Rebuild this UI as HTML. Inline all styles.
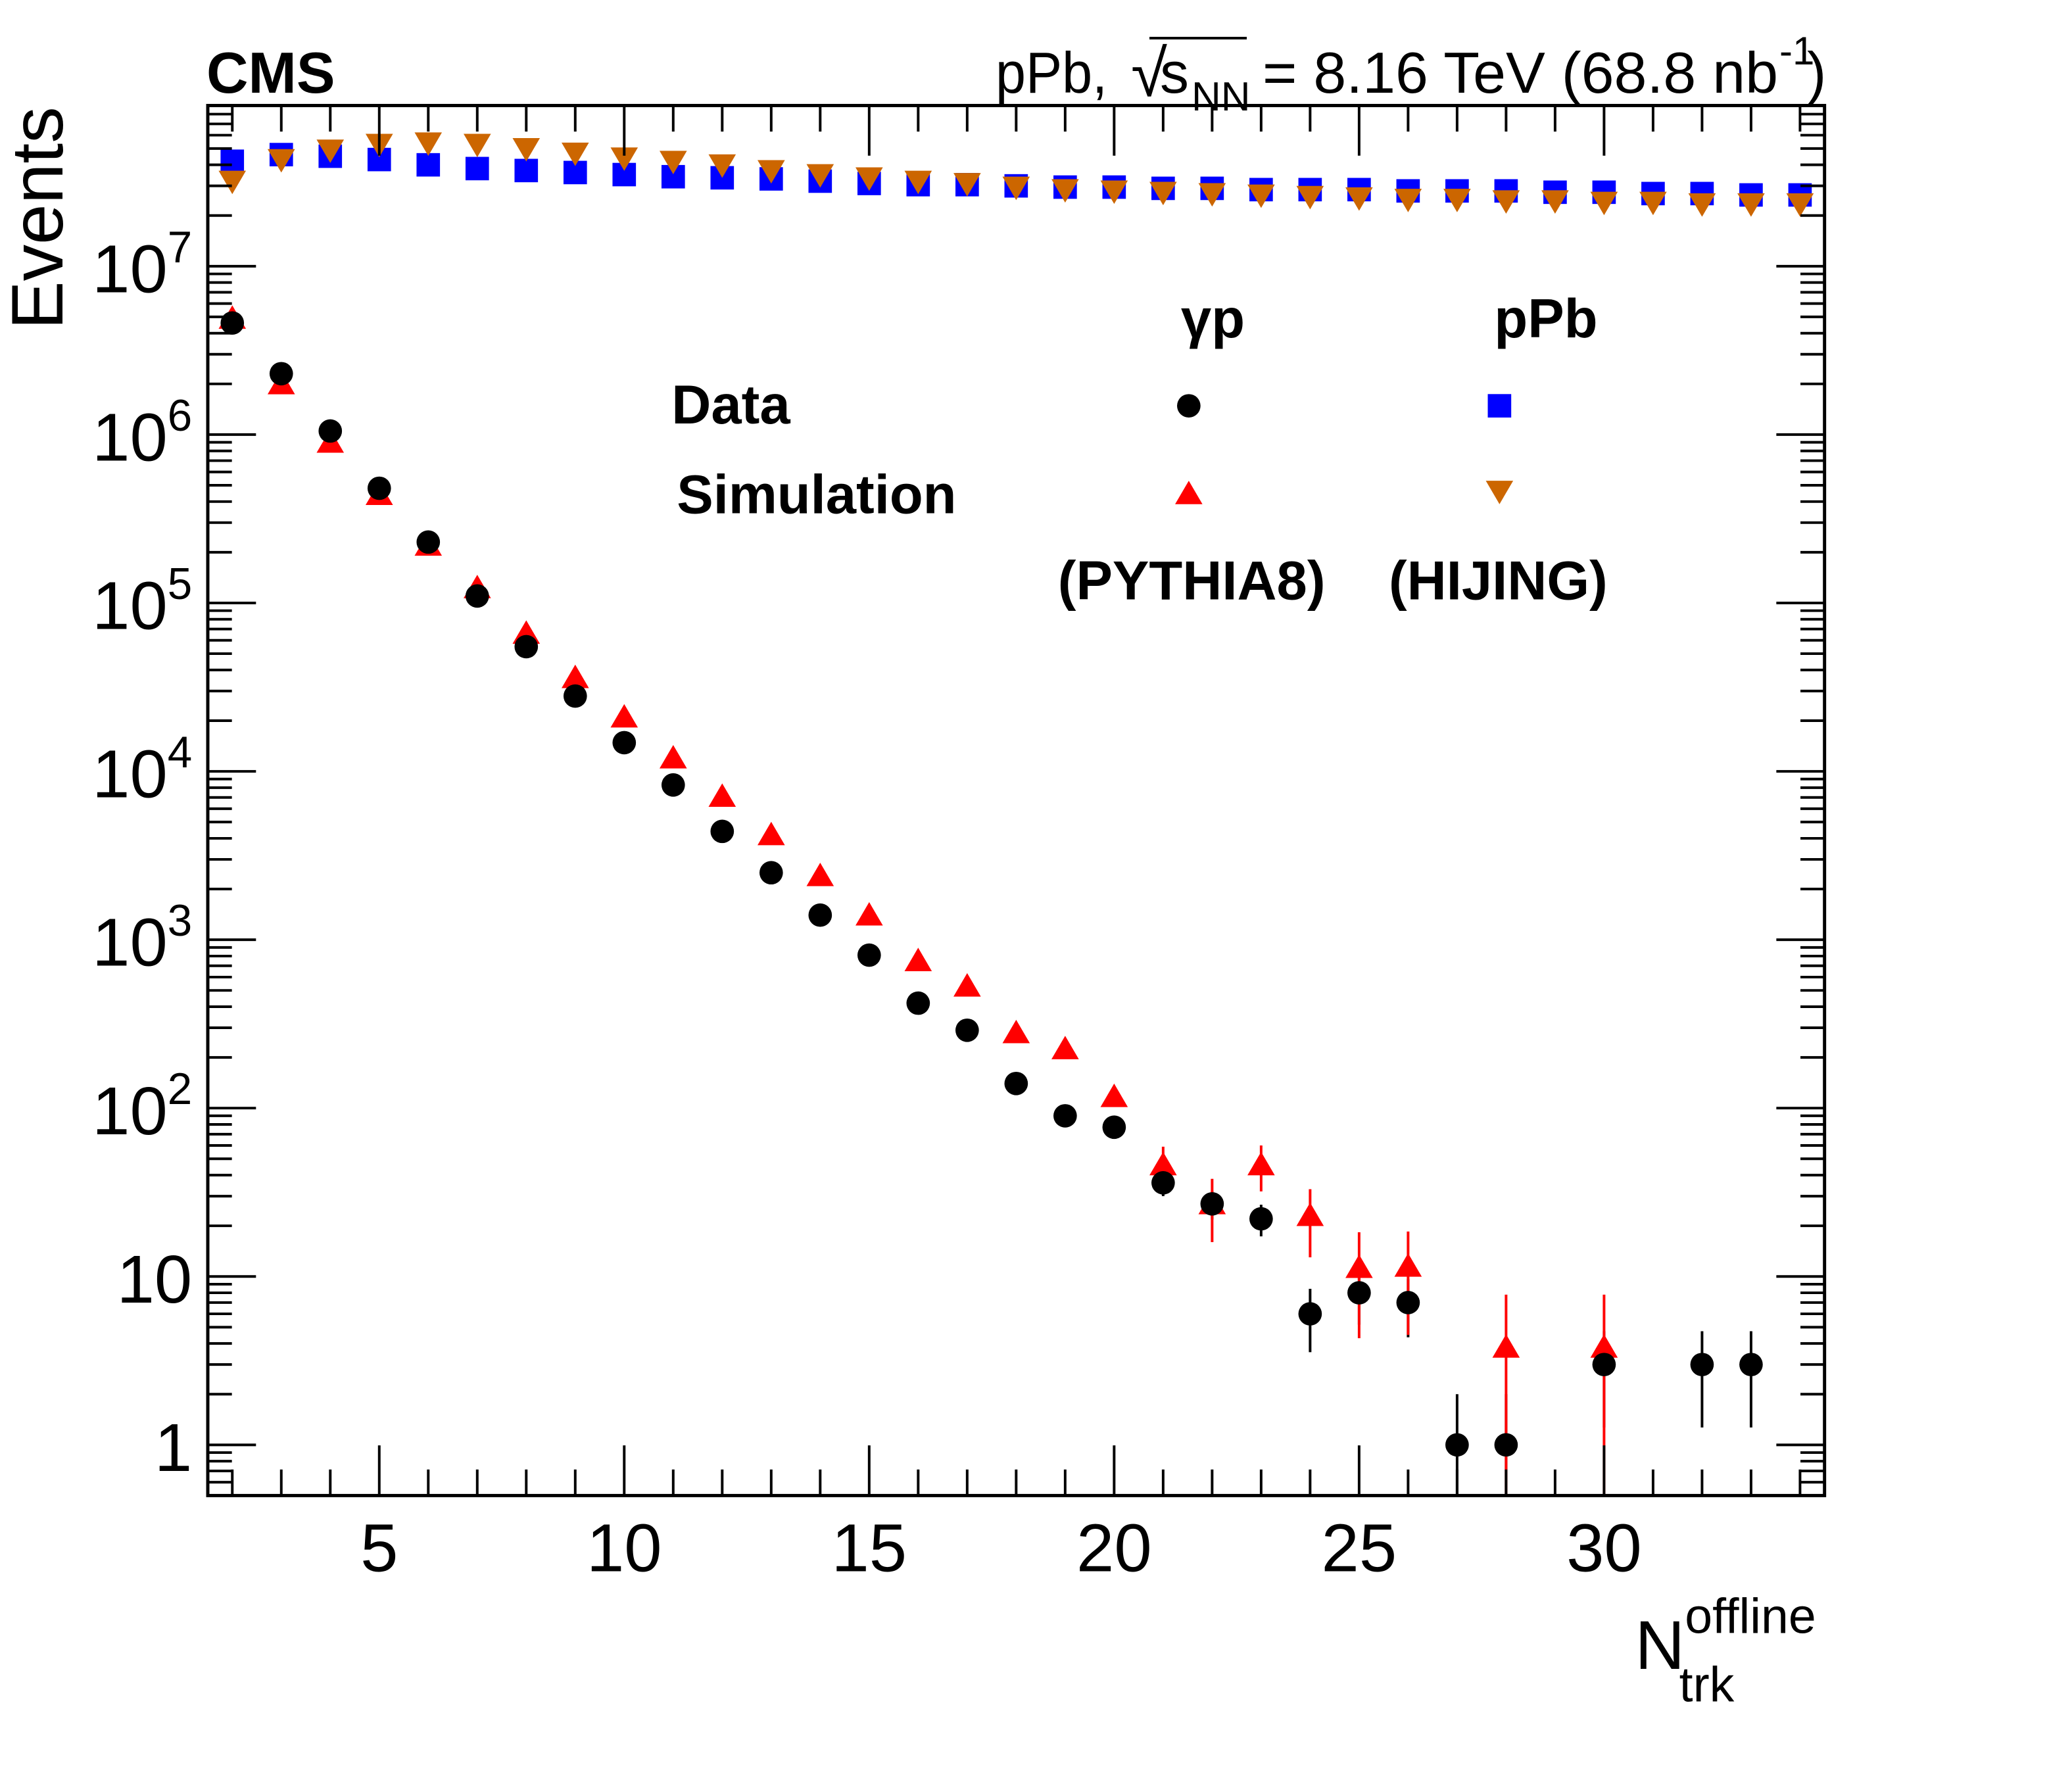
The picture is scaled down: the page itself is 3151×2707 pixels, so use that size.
<!DOCTYPE html>
<html><head><meta charset="utf-8"><style>
html,body{margin:0;padding:0;background:#fff}
svg{display:block}
text{font-family:"Liberation Sans",Arial,sans-serif}
</style></head><body>
<svg id="chart" width="3151" height="2707" viewBox="0 0 3151 2707" xmlns="http://www.w3.org/2000/svg">
<g transform="scale(0.9906)">
<g id="marks"></g>
<g id="axes"></g>
<rect x="319" y="162" width="2482" height="2134" fill="none" stroke="#000" stroke-width="5"/>
<text transform="translate(96,335) rotate(-90)" font-size="112" text-anchor="middle">Events</text>
<text x="2510" y="2562" font-size="106">N<tspan font-size="76" dy="-55">offline</tspan><tspan font-size="76" dx="-210" dy="105">trk</tspan></text>
<g font-weight="bold" font-size="84">
<text x="1862" y="518" text-anchor="middle">γp</text>
<text x="2294" y="518">pPb</text>
<text x="1031" y="650">Data</text>
<text x="1039" y="788">Simulation</text>
<text x="1624" y="920">(PYTHIA8)</text>
<text x="2132" y="920">(HIJING)</text>
<circle cx="1825" cy="623" r="18" fill="#000"/>
<rect x="2284" y="605" width="36" height="36" fill="#0000ff"/>
<polygon points="1825,738 1846,774 1804,774" fill="#ff0000"/>
<polygon points="2281,738 2323,738 2302,774" fill="#cc6600"/>
</g>
</g>
<text x="314" y="141" font-size="88" font-weight="bold">CMS</text>
<g font-size="88">
<text x="1514" y="141" textLength="170" lengthAdjust="spacingAndGlyphs">pPb,</text>
<text x="1720" y="146" font-size="100">√</text>
<line x1="1748" y1="58" x2="1896" y2="58" stroke="#000" stroke-width="4"/>
<text x="1764" y="141">s</text>
<text x="1812" y="168" font-size="62">NN</text>
<text x="1920" y="141" textLength="784" lengthAdjust="spacingAndGlyphs">= 8.16 TeV (68.8 nb</text>
<text x="2706" y="98" font-size="60">-1</text>
<text x="2748" y="141">)</text>
</g>
</svg>
<script>
const dataX=[2,3,4,5,6,7,8,9,10,11,12,13,14,15,16,17,18,19,20,21,22,23,24,25,26,27,28,30,32,33];
const dataY=[4.6e6,2.3e6,1.05e6,4.8e5,2.3e5,1.1e5,5.5e4,2.8e4,1.48e4,8.3e3,4.4e3,2.5e3,1.4e3,810,420,290,140,90,77,36,27,22,6,8,7,1,1,3,3,3];
const simX=[2,3,4,5,6,7,8,9,10,11,12,13,14,15,16,17,18,19,20,21,22,23,24,25,26,28,30];
const simY=[4.9e6,2.0e6,9.0e5,4.4e5,2.2e5,1.23e5,6.6e4,3.6e4,2.1e4,1.2e4,7.1e3,4.2e3,2.4e3,1.4e3,750,530,280,225,117,46,27,46,23,11.3,11.5,3.8,3.8];
const simErr=[0,0,0,0,0,0,0,0,0,0,0,0,0,0,0,0,0,0,12,13,11,14,10,7,7,4,4];
const ppbX=[2,3,4,5,6,7,8,9,10,11,12,13,14,15,16,17,18,19,20,21,22,23,24,25,26,27,28,29,30,31,32,33,34];
const ppbY=[4.2e7,4.6e7,4.5e7,4.3e7,4.0e7,3.8e7,3.7e7,3.6e7,3.5e7,3.4e7,3.35e7,3.3e7,3.2e7,3.1e7,3.05e7,3.05e7,3.0e7,2.95e7,2.95e7,2.9e7,2.9e7,2.85e7,2.85e7,2.85e7,2.8e7,2.8e7,2.8e7,2.75e7,2.75e7,2.7e7,2.7e7,2.65e7,2.65e7];
const hijY=[3.2e7,4.3e7,4.9e7,5.3e7,5.4e7,5.3e7,5.0e7,4.7e7,4.4e7,4.2e7,4.0e7,3.7e7,3.5e7,3.35e7,3.2e7,3.1e7,2.95e7,2.85e7,2.8e7,2.75e7,2.7e7,2.65e7,2.6e7,2.55e7,2.5e7,2.5e7,2.45e7,2.45e7,2.4e7,2.4e7,2.35e7,2.35e7,2.35e7];
const xTicks=[5,10,15,20,25,30];
const yExps=[0,1,2,3,4,5,6,7];

const NS="http://www.w3.org/2000/svg";
const X0=319,X1=2801,Y0=162,Y1=2296,XMIN=1.5,XMAX=34.5,LMIN=Math.log10(0.5),LMAX=Math.log10(9e7);
function sx(v){return X0+(v-XMIN)/(XMAX-XMIN)*(X1-X0);}
function sy(v){return Y1-(Math.log10(v)-LMIN)/(LMAX-LMIN)*(Y1-Y0);}
function mk(tag,at,parent){const e=document.createElementNS(NS,tag);for(const k in at)e.setAttribute(k,at[k]);parent.appendChild(e);return e;}
const marks=document.getElementById('marks'),axes=document.getElementById('axes');
function clampY(y){return Math.max(Y0,Math.min(Y1,y));}
for(let v=2;v<=34;v++){
  const major=v%5===0,L=major?77:40;
  let t=mk('line',{x1:sx(v),x2:sx(v),y1:Y1,y2:Y1-L,stroke:'#000','stroke-width':4},axes);
  
  
  t=mk('line',{x1:sx(v),x2:sx(v),y1:Y0,y2:Y0+L,stroke:'#000','stroke-width':4},axes);
  
  
}
xTicks.forEach(v=>{const t=mk('text',{x:sx(v),y:2412,'font-size':104,'text-anchor':'middle'},axes);t.textContent=v;
  
  });
for(let e=-1;e<=7;e++){for(let m=1;m<=9;m++){const v=m*Math.pow(10,e);if(v<0.5||v>9e7)continue;const L=m===1?74:37;
  let t=mk('line',{x1:X0,x2:X0+L,y1:sy(v),y2:sy(v),stroke:'#000','stroke-width':4},axes);
  
  
  t=mk('line',{x1:X1,x2:X1-L,y1:sy(v),y2:sy(v),stroke:'#000','stroke-width':4},axes);
  
  }}
yExps.forEach(e=>{const y=sy(Math.pow(10,e))+40;const t=mk('text',{x:295,y:y,'font-size':104,'text-anchor':'end'},axes);
  
  
  if(e===0)t.textContent='1';else if(e===1)t.textContent='10';else{t.innerHTML='10<tspan font-size="68" dy="-46">'+e+'</tspan>';}});
ppbX.forEach((x,i)=>{const r=mk('rect',{x:sx(x)-18,y:sy(ppbY[i])-18,width:36,height:36,fill:'#0000ff'},marks);
  
  });
ppbX.forEach((x,i)=>{const cx=sx(x),cy=sy(hijY[i]);const p=mk('polygon',{points:`${cx-21},${cy-16} ${cx+21},${cy-16} ${cx},${cy+20}`,fill:'#cc6600'},marks);
  
  });
dataX.forEach((x,i)=>{const v=dataY[i],e=Math.sqrt(v);const cx=sx(x);
  const lo=v-e>0?sy(v-e):Y1;
  const l=mk('line',{x1:cx,x2:cx,y1:clampY(sy(v+e)),y2:clampY(lo),stroke:'#000','stroke-width':4},marks);
  
  });
simX.forEach((x,i)=>{const v=simY[i],e=simErr[i],cx=sx(x),cy=sy(v);
  if(e>0){const lo=v-e>0?sy(v-e):Y1;const l=mk('line',{x1:cx,x2:cx,y1:clampY(sy(v+e)),y2:clampY(lo),stroke:'#ff0000','stroke-width':4},marks);
  
  }
  const p=mk('polygon',{points:`${cx},${cy-20} ${cx+21},${cy+16} ${cx-21},${cy+16}`,fill:'#ff0000'},marks);
  
  });
dataX.forEach((x,i)=>{const c=mk('circle',{cx:sx(x),cy:sy(dataY[i]),r:18,fill:'#000'},marks);
  
  });
</script>
</body></html>
